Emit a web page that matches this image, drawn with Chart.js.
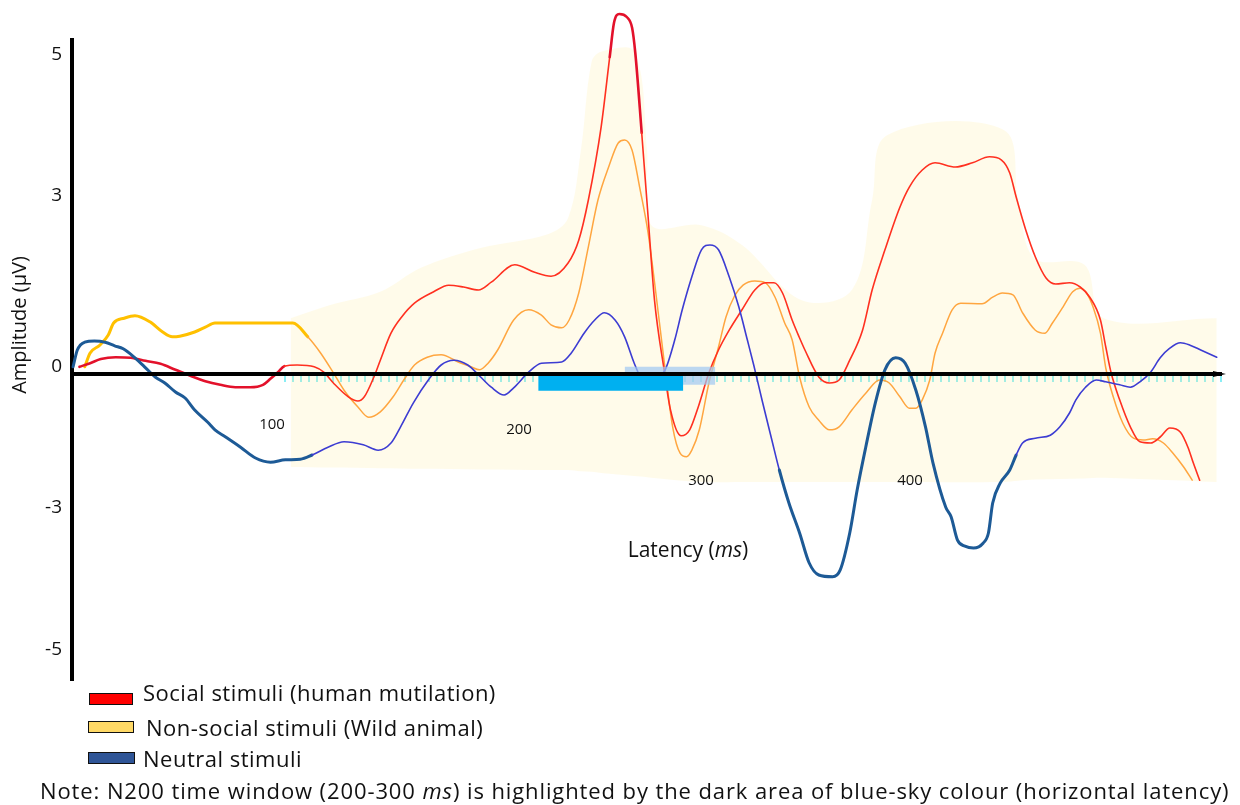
<!DOCTYPE html>
<html>
<head>
<meta charset="utf-8">
<title>ERP waveforms</title>
<script src="https://cdn.jsdelivr.net/npm/chart.js@4.4.1/dist/chart.umd.min.js"></script>
<style>
  html, body { margin: 0; padding: 0; background: #fff; }
  #wrap { position: relative; width: 1240px; height: 805px; font-family: 'Open Sans', sans-serif; color: #111; }
  #wrap canvas { position: absolute; left: 0; top: 0; }
  .key { position: absolute; border: 1.5px solid #111; box-sizing: border-box; }
  .keyText { position: absolute; font-size: 22px; line-height: 26px; letter-spacing: 0.5px; white-space: nowrap; }
  .note { letter-spacing: 0.9px; }
</style>
</head>
<body>
<div id="wrap">
  <canvas id="erp-chart"></canvas>
  <div id="legend"></div>
</div>
<script>
// Latency in ms, amplitude in microvolts
const socialMs = [5, 10, 15, 22, 29, 36, 43, 50, 57, 64, 71, 78, 85, 91, 94.5, 98, 101, 107, 115, 119.5,
  124, 131, 135.5, 138.5, 143, 146, 151, 156, 162, 171, 178, 185, 192, 198, 209, 218, 226, 234, 239, 243.5,
  249.5, 253.5, 255.5, 258, 261.5, 264, 265.5, 268.5, 271.5, 274.5, 279, 282, 287, 291, 295, 300, 304.5, 309.5, 315.5, 321.5,
  326.5, 330.5, 334.5, 339, 342.5, 345, 351.5, 356.5, 361, 366, 372, 376.5, 382.5, 389.5, 394, 400, 406, 415.5, 423.5, 431.5,
  437, 441, 444, 448.5, 453, 458, 462.5, 469, 474, 478.5, 483.5, 486, 488.5, 492.5, 497.5, 502, 507, 511.5, 516, 521,
  524.5, 527, 530];
const socialUv = [0.12, 0.18, 0.25, 0.28, 0.27, 0.22, 0.17, 0.07, -0.03, -0.12, -0.18, -0.22, -0.22, -0.18, -0.08, 0.03, 0.13, 0.15, 0.12, 0.03,
  -0.15, -0.38, -0.45, -0.38, -0.05, 0.23, 0.68, 0.95, 1.18, 1.37, 1.48, 1.45, 1.40, 1.53, 1.82, 1.70, 1.63, 1.85, 2.23, 2.90,
  4.12, 5.28, 5.85, 6.00, 5.95, 5.77, 5.35, 4.02, 2.62, 1.23, 0.07, -0.60, -1.03, -0.93, -0.55, 0.02, 0.40, 0.73, 1.07, 1.40,
  1.52, 1.52, 1.35, 0.90, 0.60, 0.40, -0.05, -0.15, -0.10, 0.23, 0.73, 1.40, 2.07, 2.78, 3.12, 3.40, 3.52, 3.45, 3.52, 3.62,
  3.57, 3.35, 2.95, 2.40, 1.95, 1.60, 1.50, 1.52, 1.45, 1.28, 0.90, 0.45, 0.02, -0.43, -0.88, -1.13, -1.15, -1.05, -0.90, -0.97,
  -1.22, -1.48, -1.77];

const nonSocialMs = [7.5, 10, 14.5, 18.5, 21, 26, 31, 38, 44, 48.5, 52, 59, 64, 68.5, 78, 105, 112, 118, 124, 129,
  135.5, 140.5, 146, 152, 157, 162, 168, 174.5, 182.5, 188.5, 192.5, 196.5, 201, 208.5, 215.5, 221.5, 226, 231, 234.5, 239,
  243.5, 248, 253, 257.5, 260.5, 264, 267.5, 271.5, 276.5, 279.5, 283, 286.5, 289.5, 292, 295.5, 300, 304.5, 308, 312, 316, 321.5,
  326.5, 331, 335.5, 339, 342.5, 347, 351.5, 356.5, 361, 367, 373.5, 380, 384.5, 389.5, 394, 397, 400, 403.5, 406, 409.5,
  414, 418, 428, 433, 437.5, 442.5, 447, 453, 457.5, 461, 466, 470.5, 474, 477, 480, 483.5, 486, 489.5, 494, 499,
  503.5, 508, 513, 517.5, 522.5, 526.5];
const nonSocialUv = [0.12, 0.35, 0.48, 0.65, 0.85, 0.93, 0.97, 0.87, 0.70, 0.62, 0.63, 0.70, 0.78, 0.85, 0.85, 0.85, 0.62, 0.35, 0.02, -0.27,
  -0.55, -0.72, -0.63, -0.38, -0.10, 0.15, 0.28, 0.32, 0.20, 0.12, 0.07, 0.18, 0.40, 0.90, 1.07, 0.98, 0.82, 0.77, 0.90, 1.35,
  2.12, 2.90, 3.45, 3.85, 3.90, 3.73, 3.12, 2.35, 0.95, 0.07, -0.88, -1.32, -1.38, -1.27, -0.93, -0.15, 0.45, 0.95, 1.30, 1.48, 1.55,
  1.52, 1.28, 0.85, 0.57, -0.05, -0.55, -0.77, -0.93, -0.88, -0.60, -0.32, -0.10, -0.15, -0.38, -0.57, -0.57, -0.43, -0.10, 0.35, 0.68,
  1.07, 1.18, 1.17, 1.28, 1.35, 1.32, 1.02, 0.73, 0.68, 0.85, 1.12, 1.37, 1.43, 1.35, 1.12, 0.68, 0.10, -0.38, -0.82, -1.07,
  -1.10, -1.08, -1.15, -1.32, -1.55, -1.77];

const neutralMs = [2, 4, 7.5, 12, 17, 21.5, 25.5, 31, 35.5, 40.5, 45, 50, 54.5, 59, 65, 68.5, 73.5, 80.5, 87.5, 94.5,
  101.5, 108.5, 114, 121.5, 129, 138, 145, 151, 155.5, 161.5, 168.5, 174.5, 180.5, 187, 193, 198, 204, 208.5, 215.5, 221.5,
  231, 235.5, 241.5, 246.5, 251, 256, 260.5, 265, 268.5, 272, 276, 279.5, 284, 287.5, 292, 296.5, 300.5, 304.5, 309.5, 314,
  318, 321, 325, 329.5, 333, 337.5, 342.5, 347, 351.5, 358, 361.5, 366, 369.5, 373.5, 378, 382.5, 387.5, 392, 397, 401.5,
  405, 411, 413.5, 416.5, 420, 424, 428.5, 431, 433, 436.5, 441, 444, 447, 453, 460, 464.5, 469, 472, 476.5, 481.5,
  486, 492.5, 497.5, 502, 507, 511.5, 516, 521, 525.5, 530.5, 538];
const neutralUv = [0.12, 0.40, 0.53, 0.55, 0.53, 0.47, 0.42, 0.27, 0.12, -0.05, -0.15, -0.30, -0.40, -0.60, -0.80, -0.93, -1.05, -1.22, -1.40, -1.47,
  -1.43, -1.42, -1.35, -1.22, -1.13, -1.18, -1.27, -1.15, -0.88, -0.48, -0.10, 0.15, 0.23, 0.15, -0.05, -0.22, -0.35, -0.23, 0.03, 0.18,
  0.20, 0.35, 0.68, 0.90, 1.02, 0.90, 0.62, 0.18, -0.08, -0.12, -0.05, 0.07, 0.57, 1.07, 1.62, 2.07, 2.15, 2.07, 1.62, 1.12,
  0.57, 0.15, -0.45, -1.10, -1.60, -2.15, -2.65, -3.15, -3.35, -3.38, -3.27, -2.65, -1.93, -1.22, -0.48, 0.07, 0.27, 0.18, -0.27, -0.88,
  -1.48, -2.22, -2.38, -2.77, -2.87, -2.90, -2.82, -2.65, -2.15, -1.82, -1.60, -1.35, -1.15, -1.07, -1.02, -0.88, -0.65, -0.43, -0.22, -0.10,
  -0.13, -0.18, -0.22, -0.13, 0.03, 0.27, 0.43, 0.52, 0.48, 0.40, 0.28];

// pale yellow spread behind the waveforms
const bandMs = [104, 122.5, 146, 165, 193, 224.5, 234, 240, 245, 249.5, 265, 271, 273, 296.5, 315.5, 343.5, 367, 376.5, 383.5, 438, 445, 452.5, 476, 485, 538];
const bandTop = [0.93, 1.15, 1.37, 1.77, 2.10, 2.33, 2.60, 3.73, 5.20, 5.37, 5.37, 3.73, 2.48, 2.48, 2.15, 1.23, 1.40, 2.90, 3.98, 4.07, 2.90, 1.93, 1.82, 0.93, 0.93];
const bandBottom = [-1.55, -1.56, -1.57, -1.58, -1.59, -1.60, -1.60, -1.62, -1.63, -1.65, -1.70, -1.72, -1.73, -1.80, -1.80, -1.80, -1.80, -1.80, -1.80, -1.80, -1.78, -1.76, -1.74, -1.73, -1.80];

// N200 window marks (start/end ms, top/bottom uV)
const n200Ms = [220, 288];
const n200Uv = [-0.02, -0.28];
const n200HaloMs = [260.5, 303];
const n200HaloUv = [0.12, -0.18];

// tick labels as printed on the figure, at the heights where they sit
const yTickLabels = ['5', '3', '0', '-3', '-5'];
const yTickAt = [5.32, 2.97, 0.12, -2.23, -4.6];
const xTickLabels = ['100', '200', '300', '400'];

const seriesLabels = ['Social stimuli (human mutilation)', 'Non-social stimuli (Wild animal)', 'Neutral stimuli'];
const keyColors = ['#ff0000', '#ffd966', '#2f5597'];

// layout (canvas pixels)
const xLabelSpots = [[272, 425], [519, 430], [701, 481], [910, 481]];
const keyBoxes = [[89, 693, 44, 12], [88, 721, 46, 12], [88, 752, 47, 12]];
const keyTextSpots = [[143, 679], [146, 714], [143, 745]];

function toPoints(xs, ys) {
  return xs.map((x, i) => ({ x: x, y: ys[i] }));
}

function flatPoints(xs, y) {
  return xs.map(x => ({ x: x, y: y }));
}

function segmentStyle(thickRanges, thickColor, thinColor, thickWidth, thinWidth) {
  const isThick = ctx => thickRanges.some(r => ctx.p0.parsed.x >= r[0] && ctx.p0.parsed.x < r[1]);
  return {
    borderColor: ctx => isThick(ctx) ? thickColor : thinColor,
    borderWidth: ctx => isThick(ctx) ? thickWidth : thinWidth
  };
}

const lineBase = { pointRadius: 0, fill: false, clip: false, cubicInterpolationMode: 'monotone', borderCapStyle: 'round', borderJoinStyle: 'round' };

const figureText = {
  id: 'figureText',
  afterDraw(chart) {
    const ctx = chart.ctx;
    ctx.save();
    ctx.fillStyle = '#111';
    ctx.textAlign = 'center';
    ctx.textBaseline = 'middle';

    ctx.font = '15px "Open Sans"';
    xTickLabels.forEach((t, i) => ctx.fillText(t, xLabelSpots[i][0], xLabelSpots[i][1]));

    // y title
    ctx.font = '20px "Open Sans"';
    ctx.save();
    ctx.translate(20, 325);
    ctx.rotate(-Math.PI / 2);
    ctx.fillText('Amplitude (\u00b5V)', 0, 0);
    ctx.restore();

    // x title, "ms" in italics
    const a = 'Latency (', b = 'ms', c = ')';
    const fs = 21;
    ctx.font = fs + 'px "Open Sans"';
    const wa = ctx.measureText(a).width, wc = ctx.measureText(c).width;
    ctx.font = 'italic ' + fs + 'px "Open Sans"';
    const wb = ctx.measureText(b).width;
    const x = 688 - (wa + wb + wc) / 2;
    ctx.textAlign = 'left';
    ctx.font = fs + 'px "Open Sans"';
    ctx.fillText(a, x, 551);
    ctx.font = 'italic ' + fs + 'px "Open Sans"';
    ctx.fillText(b, x + wa, 551);
    ctx.font = fs + 'px "Open Sans"';
    ctx.fillText(c, x + wa + wb, 551);

    // arrow tip on the latency axis
    const y0 = chart.scales.y.getPixelForValue(0);
    const xr = chart.chartArea.right;
    ctx.fillStyle = '#000';
    ctx.beginPath();
    ctx.moveTo(xr - 8, y0 - 3);
    ctx.lineTo(xr + 5, y0);
    ctx.lineTo(xr - 8, y0 + 3);
    ctx.closePath();
    ctx.fill();
    ctx.restore();
  }
};

const data = {
  datasets: [
    Object.assign({}, lineBase, {
      label: seriesLabels[0],
      data: toPoints(socialMs, socialUv),
      borderColor: '#ff3020',
      borderWidth: 1.6,
      segment: segmentStyle([[0, 100], [252.5, 266]], '#e3112b', '#ff3020', 2.6, 1.6),
      order: 3
    }),
    Object.assign({}, lineBase, {
      label: seriesLabels[1],
      data: toPoints(nonSocialMs, nonSocialUv),
      borderColor: '#ffa640',
      borderWidth: 1.5,
      segment: segmentStyle([[0, 105.5]], '#ffc000', '#ffa640', 3, 1.5),
      order: 4
    }),
    Object.assign({}, lineBase, {
      label: seriesLabels[2],
      data: toPoints(neutralMs, neutralUv),
      borderColor: '#3c3cd2',
      borderWidth: 1.6,
      segment: segmentStyle([[0, 113], [332.5, 444]], '#1d5a96', '#3c3cd2', 3, 1.6),
      order: 2
    }),
    {
      label: 'spread',
      data: toPoints(bandMs, bandTop),
      borderWidth: 0,
      pointRadius: 0,
      tension: 0.35,
      fill: '+1',
      backgroundColor: 'rgba(255, 238, 160, 0.22)',
      order: 8
    },
    {
      label: 'spread-low',
      data: toPoints(bandMs, bandBottom),
      borderWidth: 0,
      pointRadius: 0,
      tension: 0.35,
      fill: false,
      order: 8
    },
    {
      label: 'N200 halo',
      data: flatPoints(n200HaloMs, n200HaloUv[0]),
      borderWidth: 0,
      pointRadius: 0,
      fill: { value: n200HaloUv[1] },
      backgroundColor: 'rgba(160, 200, 242, 0.7)',
      order: 1
    },
    {
      label: 'N200 window',
      data: flatPoints(n200Ms, n200Uv[0]),
      borderWidth: 0,
      pointRadius: 0,
      fill: { value: n200Uv[1] },
      backgroundColor: '#00b0f0',
      order: 0
    }
  ]
};

const config = {
  type: 'line',
  data: data,
  options: {
    responsive: true,
    maintainAspectRatio: false,
    animation: false,
    devicePixelRatio: 1,
    layout: { padding: { top: 40, bottom: 125, left: 0, right: 19 } },
    plugins: {
      legend: { display: false },
      tooltip: { enabled: false }
    },
    scales: {
      x: {
        type: 'linear',
        position: { y: 0 },
        min: 1.5,
        max: 540,
        ticks: { display: false, stepSize: 3.75 },
        grid: {
          display: true,
          drawOnChartArea: false,
          drawTicks: true,
          tickLength: 6,
          lineWidth: 2,
          color: ctx => (ctx.tick && ctx.tick.value >= 100) ? '#8aeef5' : 'rgba(0,0,0,0)'
        },
        border: { display: true, color: '#000', width: 4, z: 1 }
      },
      y: {
        type: 'linear',
        position: 'left',
        min: -5.1,
        max: 5.5667,
        afterFit: scale => { scale.width = 72; },
        afterBuildTicks: scale => { scale.ticks = yTickAt.map(v => ({ value: v })); },
        ticks: {
          padding: 10,
          color: '#111',
          font: { family: 'Open Sans', size: 19 },
          callback: (value, index) => yTickLabels[index]
        },
        grid: { display: false, drawTicks: false },
        border: { display: true, color: '#000', width: 4 }
      }
    }
  },
  plugins: [figureText]
};

const ctxErp = document.getElementById('erp-chart');
new Chart(ctxErp, config);

// key and note under the chart
const legend = document.getElementById('legend');
seriesLabels.forEach((label, i) => {
  const box = document.createElement('div');
  box.className = 'key';
  box.style.left = keyBoxes[i][0] + 'px';
  box.style.top = keyBoxes[i][1] + 'px';
  box.style.width = keyBoxes[i][2] + 'px';
  box.style.height = keyBoxes[i][3] + 'px';
  box.style.background = keyColors[i];
  legend.appendChild(box);
  const txt = document.createElement('div');
  txt.className = 'keyText';
  txt.style.left = keyTextSpots[i][0] + 'px';
  txt.style.top = keyTextSpots[i][1] + 'px';
  txt.textContent = label;
  legend.appendChild(txt);
});
const note = document.createElement('div');
note.className = 'keyText note';
note.style.left = '40px';
note.style.top = '777px';
note.innerHTML = 'Note: N200 time window (200-300 <i>ms</i>) is highlighted by the dark area of blue-sky colour (horizontal latency)';
legend.appendChild(note);
</script>
</body>
</html>
